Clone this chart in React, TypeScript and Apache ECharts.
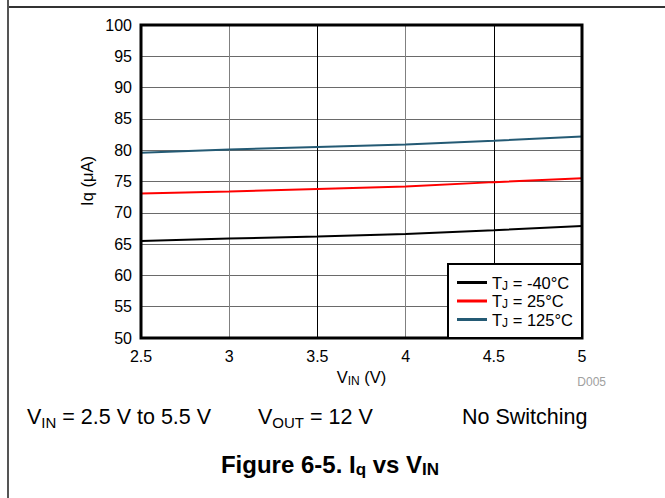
import React, { useEffect, useRef } from "react";
import * as echarts from "echarts";

const vin = [2.5, 3, 3.5, 4, 4.5, 5];
const iqM40 = [65.5, 65.9, 66.2, 66.6, 67.2, 67.9];
const iq25 = [73.1, 73.4, 73.8, 74.2, 74.9, 75.5];
const iq125 = [79.6, 80.1, 80.5, 80.9, 81.5, 82.2];
const legendNames = ["TJ = -40°C", "TJ = 25°C", "TJ = 125°C"];
const lineColors = ["#000000", "#ff0000", "#245a74"];
const noteTexts = ["{a|V}{s|IN}{a| = 2.5 V to 5.5 V}", "{a|V}{s|OUT}{a| = 12 V}", "{a|No Switching}"];
const titleText = "{a|Figure 6-5. I}{s|q}{a| vs V}{s|IN}";

const FONT = "Arial, 'Liberation Sans', Helvetica, sans-serif";

function richSub(F: number, f: number, L: number, l: number, bold = false) {
  const w = bold ? "bold" : "normal";
  return {
    a: { fontSize: F, lineHeight: L, fontFamily: FONT, fontWeight: w, color: "#000", verticalAlign: "middle" },
    s: { fontSize: f, lineHeight: l, fontFamily: FONT, fontWeight: w, color: "#000", verticalAlign: "bottom" },
  };
}

export default function App() {
  const ref = useRef<HTMLDivElement>(null);
  useEffect(() => {
    if (!ref.current) return;
    const chart = echarts.init(ref.current, undefined, { renderer: "svg" });
    const datasets = [iqM40, iq25, iq125];
    const gx = 141, gy = 25, gw = 441, gh = 313;
    chart.setOption({
      animation: false,
      backgroundColor: "#fff",
      grid: { left: gx, top: gy, width: gw, height: gh, show: false },
      xAxis: {
        type: "value",
        min: 2.5,
        max: 5,
        interval: 0.5,
        axisLine: { show: false },
        axisTick: { show: false },
        axisLabel: { color: "#000", fontSize: 16, fontFamily: FONT, margin: 10, formatter: (v: number) => String(v) },
        splitLine: { show: true, lineStyle: { color: ["#000", "#808080"], width: 1 } },
        name: "{a|V}{s|IN}{a| (V)}",
        nameLocation: "middle",
        nameGap: 29,
        nameTextStyle: { rich: richSub(16.5, 12, 19, 7.5) },
      },
      yAxis: {
        type: "value",
        min: 50,
        max: 100,
        interval: 5,
        axisLine: { show: false },
        axisTick: { show: false },
        axisLabel: { color: "#000", fontSize: 16, fontFamily: FONT, margin: 9 },
        splitLine: { show: true, lineStyle: { color: "#6a6a6a", width: 1 } },
      },
      legend: {
        show: true,
        orient: "vertical",
        left: 457,
        top: 274,
        padding: 0,
        itemGap: 1,
        itemWidth: 30,
        itemHeight: 3,
        itemTextGap: 8,
        icon: "rect",
        z: 60,
        data: legendNames,
        formatter: (name: string) => "{a|T}{s|J}{a|" + name.slice(2) + "}",
        textStyle: { rich: richSub(16.5, 12, 18, 7) },
      },
      series: datasets.map((arr, i) => ({
        type: "line",
        name: legendNames[i],
        data: vin.map((x, j) => [x, arr[j]]),
        showSymbol: false,
        symbol: "none",
        lineStyle: { color: lineColors[i], width: 2 },
        itemStyle: { color: lineColors[i] },
        z: 3,
      })),
      graphic: [
        { type: "line", shape: { x1: 8, y1: 7, x2: 665, y2: 7 }, style: { stroke: "#333", lineWidth: 2 }, z: 1 },
        { type: "line", shape: { x1: 8, y1: 0, x2: 8, y2: 498 }, style: { stroke: "#555", lineWidth: 2 }, z: 1 },
        { type: "rect", shape: { x: gx, y: gy, width: gw, height: gh }, style: { fill: "none", stroke: "#000", lineWidth: 3 }, z: 50 },
        { type: "rect", shape: { x: 448, y: 264, width: 134, height: 74 }, style: { fill: "#fff", stroke: "#000", lineWidth: 2 }, z: 55 },
        {
          type: "text", x: 87, y: 181, rotation: Math.PI / 2,
          style: { text: "Iq (μA)", fontSize: 16.5, fontFamily: FONT, fill: "#000", align: "center", verticalAlign: "middle" },
          z: 10,
        },
        {
          type: "text", x: 606, y: 382,
          style: { text: "D005", fontSize: 12, fontFamily: FONT, fill: "#a0a0a0", align: "right", verticalAlign: "middle" },
          z: 10,
        },
        ...[27, 258, 462].map((x, i) => ({
          type: "text", x, y: 417,
          style: { text: noteTexts[i], rich: richSub(21.5, 15, 25, 12.5), align: "left", verticalAlign: "middle" },
          z: 10,
        })),
        {
          type: "text", x: 330, y: 464,
          style: { text: titleText, rich: richSub(24, 17, 28, 14, true), align: "center", verticalAlign: "middle" },
          z: 10,
        },
      ],
    });
    return () => chart.dispose();
  }, []);
  return <div ref={ref} style={{ position: "fixed", left: 0, top: 0, width: 665, height: 498 }} />;
}
